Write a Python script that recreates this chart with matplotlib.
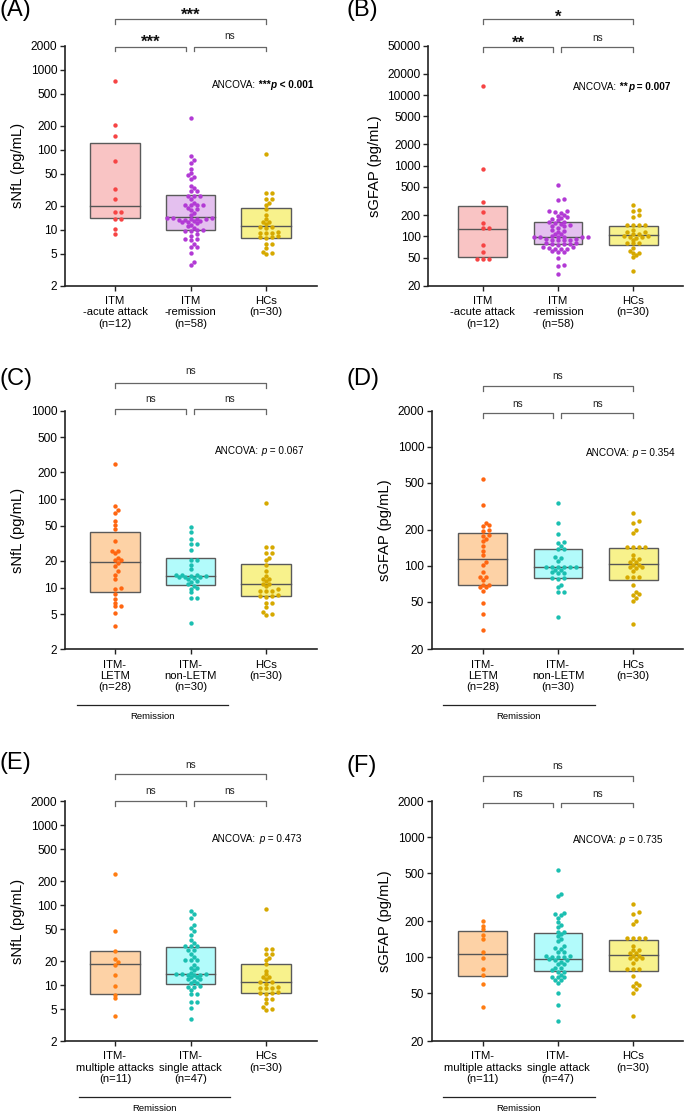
import numpy as np
import matplotlib.pyplot as plt
from matplotlib.ticker import NullLocator

plt.rcParams['font.family'] = ['Liberation Sans', 'DejaVu Sans']

# ---- values (pg/mL) ----
snfl_acute = [730, 206, 149, 73, 32, 24.5, 16.5, 16.5, 13.8, 13.8, 10.3, 8.85]
snfl_letm = [247, 83.6, 75.3, 69, 57, 51, 46.3, 33.3, 26.1, 26.1, 24.4, 21.8, 20.5, 20.5,
             18.8, 17.5, 15.2, 14.0, 12.5, 10.0, 9.6, 8.45, 7.5, 6.7, 6.1, 6.1, 5.1, 3.64]
snfl_nonletm = [48, 42.8, 35.7, 30.8, 30.8, 26.6, 20.3, 20.3, 18.0, 16.2, 14.0, 14.0, 13.8, 13.6,
                13.5, 13.3, 13.2, 13.0, 12.8, 12.5, 12.0, 11.6, 11.0, 10.5, 9.9, 9.7, 8.8, 7.7, 7.6, 4.0]
snfl_multi = [245, 47.8, 26.7, 21.2, 19.2, 17.8, 13.2, 9.8, 7.6, 6.8, 4.15]
snfl_single = [83.6, 76.6, 69.6, 56.4, 52.2, 47, 42.7, 36.6, 33.3, 30.8, 30.8, 30.8, 27.2, 27.2,
               24.7, 22.3, 20.6, 20.6, 20.6, 18.0, 16.3, 16.3, 15.3, 14.3, 13.9, 13.9, 13.9, 13.4,
               13.4, 13.4, 12.7, 12.7, 11.9, 11.9, 11.35, 10.5, 10.5, 9.8, 9.38, 9.38, 8.68, 7.8,
               7.8, 6.1, 6.1, 5.22, 3.77]
snfl_hc = [89.3, 28.6, 28.6, 24.5, 24.5, 21.8, 20.4, 18.2, 15.2, 13.6, 12.5, 12.5, 11.8, 10.9,
           10.9, 10.4, 9.5, 9.1, 9.1, 9.1, 8.3, 8.05, 8.05, 7.8, 6.7, 6.7, 5.97, 5.3, 5.08, 4.94]
snfl_remission = snfl_letm + snfl_nonletm

gfap_acute = [13560, 887, 303, 221, 156, 131, 131, 74.5, 59.3, 47.7, 47.7, 47.7]
gfap_letm = [535, 322, 230, 222, 215, 200, 195, 182, 177, 168, 161, 147, 133, 123, 108, 101, 89,
             80, 80, 76, 69.6, 69.6, 66.2, 66.2, 62, 49.2, 39.5, 29.2]
gfap_nonletm = [337, 228, 185, 160, 155, 148, 139, 139, 119, 116, 109, 98.5, 98.5, 98.5, 98.5,
                98.5, 98.5, 93, 93, 89, 87.7, 87.7, 79, 79, 78, 69, 66, 60, 60, 37.5]
gfap_multi = [200, 183, 171, 152, 142, 110, 98.4, 79.6, 71, 60, 38.4]
gfap_single = [535, 338, 323, 234, 229, 223, 213, 196, 186, 177, 163, 163, 156, 149, 142, 136,
               123, 119, 117.6, 110, 110, 103, 103, 100, 100, 100, 96.4, 94, 94, 91, 87, 87,
               80.7, 80.7, 77.6, 75.6, 75.6, 71, 68, 68, 68, 64, 64, 60.5, 50.2, 39.9, 29.5]
gfap_hc = [276, 237, 230, 199, 189, 144, 144, 144, 144, 123, 114, 114, 108, 108, 102, 102, 98, 98,
           96, 90, 80, 80, 80, 69, 61, 58.5, 57.4, 53.8, 50.5, 32.6]
gfap_remission = gfap_letm + gfap_nonletm

# box = (Q1, median, Q3)
box_a = [(13.9, 20.0, 122.6), (9.93, 14.6, 27.0), (7.96, 11.05, 18.6)]
box_b = [(50.4, 128, 272), (77, 99, 158), (76.5, 104, 140)]
box_c = [(8.83, 19.4, 42.1), (10.6, 13.5, 21.4), (7.96, 11.05, 18.6)]
box_d = [(68.8, 115, 190), (79.6, 98.5, 138), (76.5, 104, 140)]
box_e = [(7.66, 18.2, 26.4), (10.2, 13.9, 29.9), (7.96, 11.05, 18.6)]
box_f = [(69.2, 107, 165), (76.2, 97, 158), (76.5, 104, 140)]

labels_ab = ['ITM\n-acute attack\n(n=12)', 'ITM\n-remission\n(n=58)', 'HCs\n(n=30)']
labels_cd = ['ITM-\nLETM\n(n=28)', 'ITM-\nnon-LETM\n(n=30)', 'HCs\n(n=30)']
labels_ef = ['ITM-\nmultiple attacks\n(n=11)', 'ITM-\nsingle attack\n(n=47)', 'HCs\n(n=30)']

ticks_nfl_a = [2, 5, 10, 20, 50, 100, 200, 500, 1000, 2000]
ticks_nfl_c = [2, 5, 10, 20, 50, 100, 200, 500, 1000]
ticks_gfap_b = [20, 50, 100, 200, 500, 1000, 2000, 5000, 10000, 20000, 50000]
ticks_gfap_d = [20, 50, 100, 200, 500, 1000, 2000]

sig_a = ['***', '***', 'ns']
sig_b = ['*', '**', 'ns']
sig_ns = ['ns', 'ns', 'ns']

c_acute = ('#f64444', '#f9c4c4')
c_remis = ('#b23ad5', '#e4c0ef')
c_hc = ('#d6a900', '#f8f28c')
c_letm = ('#ff6611', '#fdd2a6')
c_multi = ('#ff7d12', '#fdd2a6')
c_teal = ('#1bbfb1', '#b2fbfb')

W, H = 685, 1113
fig = plt.figure(figsize=(W / 100, H / 100), dpi=100)


def swarm_x(ax, x0, values, step=3.0, mind=3.5):
    pts = ax.transData.transform(np.column_stack([np.full(len(values), x0), values]))
    ys = pts[:, 1]
    cands = [0.0]
    for k in range(1, 40):
        cands += [k * step, -k * step]
    placed, offs = [], np.zeros(len(values))
    for i in np.argsort(ys):
        for c in cands:
            if all((c - px) ** 2 + (ys[i] - py) ** 2 >= mind ** 2 for px, py in placed):
                break
        offs[i] = c
        placed.append((c, ys[i]))
    unit = ax.transData.transform([(1, 1)])[0, 0] - ax.transData.transform([(0, 1)])[0, 0]
    return x0 + offs / unit


def rich_text(ax, x, y, pieces, fs=7.2):
    t = ax.text(x, y, pieces[0][0], transform=ax.transAxes, fontsize=fs, va='bottom', ha='left', **pieces[0][1])
    for s, kw in pieces[1:]:
        t = ax.annotate(s, xy=(1, 0), xycoords=t, va='bottom', ha='left', fontsize=fs, **kw)


def sig_label(ax, x, y, s):
    trans = ax.get_xaxis_transform()
    if s == 'ns':
        ax.annotate(s, xy=(x, y), xycoords=trans, xytext=(0, -0.26 * 7.2), textcoords='offset points',
                    ha='center', va='baseline', fontsize=7.2, color='#222222', annotation_clip=False)
    else:
        ax.annotate(s, xy=(x, y), xycoords=trans, xytext=(0, -0.58 * 12), textcoords='offset points',
                    ha='center', va='baseline', fontsize=12, fontweight='bold', color='#111111',
                    annotation_clip=False)


def bracket(ax, x1, x2, y, h=0.02):
    ax.plot([x1, x1, x2, x2], [y - h, y, y, y - h], transform=ax.get_xaxis_transform(),
            clip_on=False, color='#666666', lw=0.9)


def panel(tag, tag_xy, rect, groups, boxes, colors, labels, ylim, ticks, ylabel,
          ancova, anc_xy, sigs, br_y, lab_y, remission=None):
    left, right, top, bottom = rect
    ax = fig.add_axes([left / W, 1 - bottom / H, (right - left) / W, (bottom - top) / H])
    ax.set_yscale('log')
    ax.set_ylim(*ylim)
    ax.set_xlim(*rect_x[tag])
    ax.set_yticks(ticks)
    ax.set_yticklabels([str(t) for t in ticks])
    ax.yaxis.set_minor_locator(NullLocator())
    ax.set_xticks([0, 1, 2])
    ax.set_xticklabels(labels, linespacing=1.15)
    ax.tick_params(axis='both', labelsize=8.6, length=3.5, width=1.0, color='#222222', pad=2)
    ax.tick_params(axis='x', labelsize=8.1, pad=4)
    for s in ['top', 'right']:
        ax.spines[s].set_visible(False)
    for s in ['left', 'bottom']:
        ax.spines[s].set_linewidth(1.2)
        ax.spines[s].set_color('#222222')
    ax.set_ylabel(ylabel, fontsize=10.6, labelpad=4)

    for i, (vals, (q1, med, q3), (dot, fill)) in enumerate(zip(groups, boxes, colors)):
        ax.bar(i, q3 - q1, bottom=q1, width=0.65, color=fill, edgecolor='#5a5a5a', linewidth=1.0, zorder=1)
        ax.plot([i - 0.325, i + 0.325], [med, med], color='#555555', lw=1.0, zorder=2)
        ax.scatter(swarm_x(ax, i, vals), vals, s=10, color=dot, linewidths=0, zorder=3)

    bracket(ax, 0, 2, br_y[0])
    bracket(ax, 0, 0.94, br_y[1])
    bracket(ax, 1.04, 2, br_y[1])
    sig_label(ax, 1.0, lab_y[0], sigs[0])
    sig_label(ax, 0.47, lab_y[1], sigs[1])
    sig_label(ax, 1.52, lab_y[1], sigs[2])

    rich_text(ax, anc_xy[0], anc_xy[1], ancova)

    if remission is not None:
        ax.plot(remission, [-0.233, -0.233], transform=ax.get_xaxis_transform(), clip_on=False,
                color='#222222', lw=0.9)
        ax.text(sum(remission) / 2, -0.28, 'Remission', transform=ax.get_xaxis_transform(),
                ha='center', va='center', fontsize=6.8)

    fig.text(tag_xy[0] / W, 1 - tag_xy[1] / H, tag, fontsize=17, ha='left', va='top')
    return ax


rect_x = {'(A)': (-0.662, 2.675), '(B)': (-0.722, 2.66), '(C)': (-0.662, 2.675),
          '(D)': (-0.677, 2.66), '(E)': (-0.662, 2.675), '(F)': (-0.677, 2.66)}

norm = {}
bold = {'fontweight': 'bold'}
bital = {'fontweight': 'bold', 'fontstyle': 'italic'}
ital = {'fontstyle': 'italic'}

panel('(A)', (-1, -1), (65, 317, 45.7, 285.7), [snfl_acute, snfl_remission, snfl_hc], box_a,
      [c_acute, c_remis, c_hc], labels_ab, (2, 2000), ticks_nfl_a, 'sNfL (pg/mL)',
      [('ANCOVA:', norm), (' ***', bold), ('p', bital), (' < 0.001', bold)], (0.582, 0.815),
      sig_a, (1.1125, 0.996), (1.149, 1.0375))

panel('(B)', (347, -1), (428.3, 683, 45.7, 285.7), [gfap_acute, gfap_remission, gfap_hc], box_b,
      [c_acute, c_remis, c_hc], labels_ab, (20, 50000), ticks_gfap_b, 'sGFAP (pg/mL)',
      [('ANCOVA:', norm), (' **', bold), ('p', bital), (' = 0.007', bold)], (0.569, 0.808),
      sig_b, (1.11, 0.993), (1.142, 1.03))

panel('(C)', (-1, 368), (65, 317, 410.7, 649.3), [snfl_letm, snfl_nonletm, snfl_hc], box_c,
      [c_letm, c_teal, c_hc], labels_cd, (2, 1000), ticks_nfl_c, 'sNfL (pg/mL)',
      [('ANCOVA:', norm), (' p', ital), (' = 0.067', norm)], (0.595, 0.81),
      sig_ns, (1.115, 1.008), (1.163, 1.049), remission=(-0.5, 1.5))

panel('(D)', (347, 368), (431.7, 683, 410.7, 649.3), [gfap_letm, gfap_nonletm, gfap_hc], box_d,
      [c_letm, c_teal, c_hc], labels_cd, (20, 2000), ticks_gfap_d, 'sGFAP (pg/mL)',
      [('ANCOVA:', norm), (' p', ital), (' = 0.354', norm)], (0.613, 0.803),
      sig_ns, (1.1035, 0.989), (1.143, 1.027), remission=(-0.527, 1.49))

panel('(E)', (-1, 752), (65, 317, 801, 1041), [snfl_multi, snfl_single, snfl_hc], box_e,
      [c_multi, c_teal, c_hc], labels_ef, (2, 2000), ticks_nfl_a, 'sNfL (pg/mL)',
      [('ANCOVA:', norm), (' p', ital), (' = 0.473', norm)], (0.585, 0.82),
      sig_ns, (1.1125, 1.0), (1.15, 1.039), remission=(-0.48, 1.52))

panel('(F)', (347, 755), (431.7, 683, 801, 1041), [gfap_multi, gfap_single, gfap_hc], box_f,
      [c_multi, c_teal, c_hc], labels_ef, (20, 2000), ticks_gfap_d, 'sGFAP (pg/mL)',
      [('ANCOVA:', norm), (' p', ital), (' = 0.735', norm)], (0.563, 0.815),
      sig_ns, (1.104, 0.993), (1.146, 1.029), remission=(-0.527, 1.49))

fig.savefig('out.png', dpi=100)
